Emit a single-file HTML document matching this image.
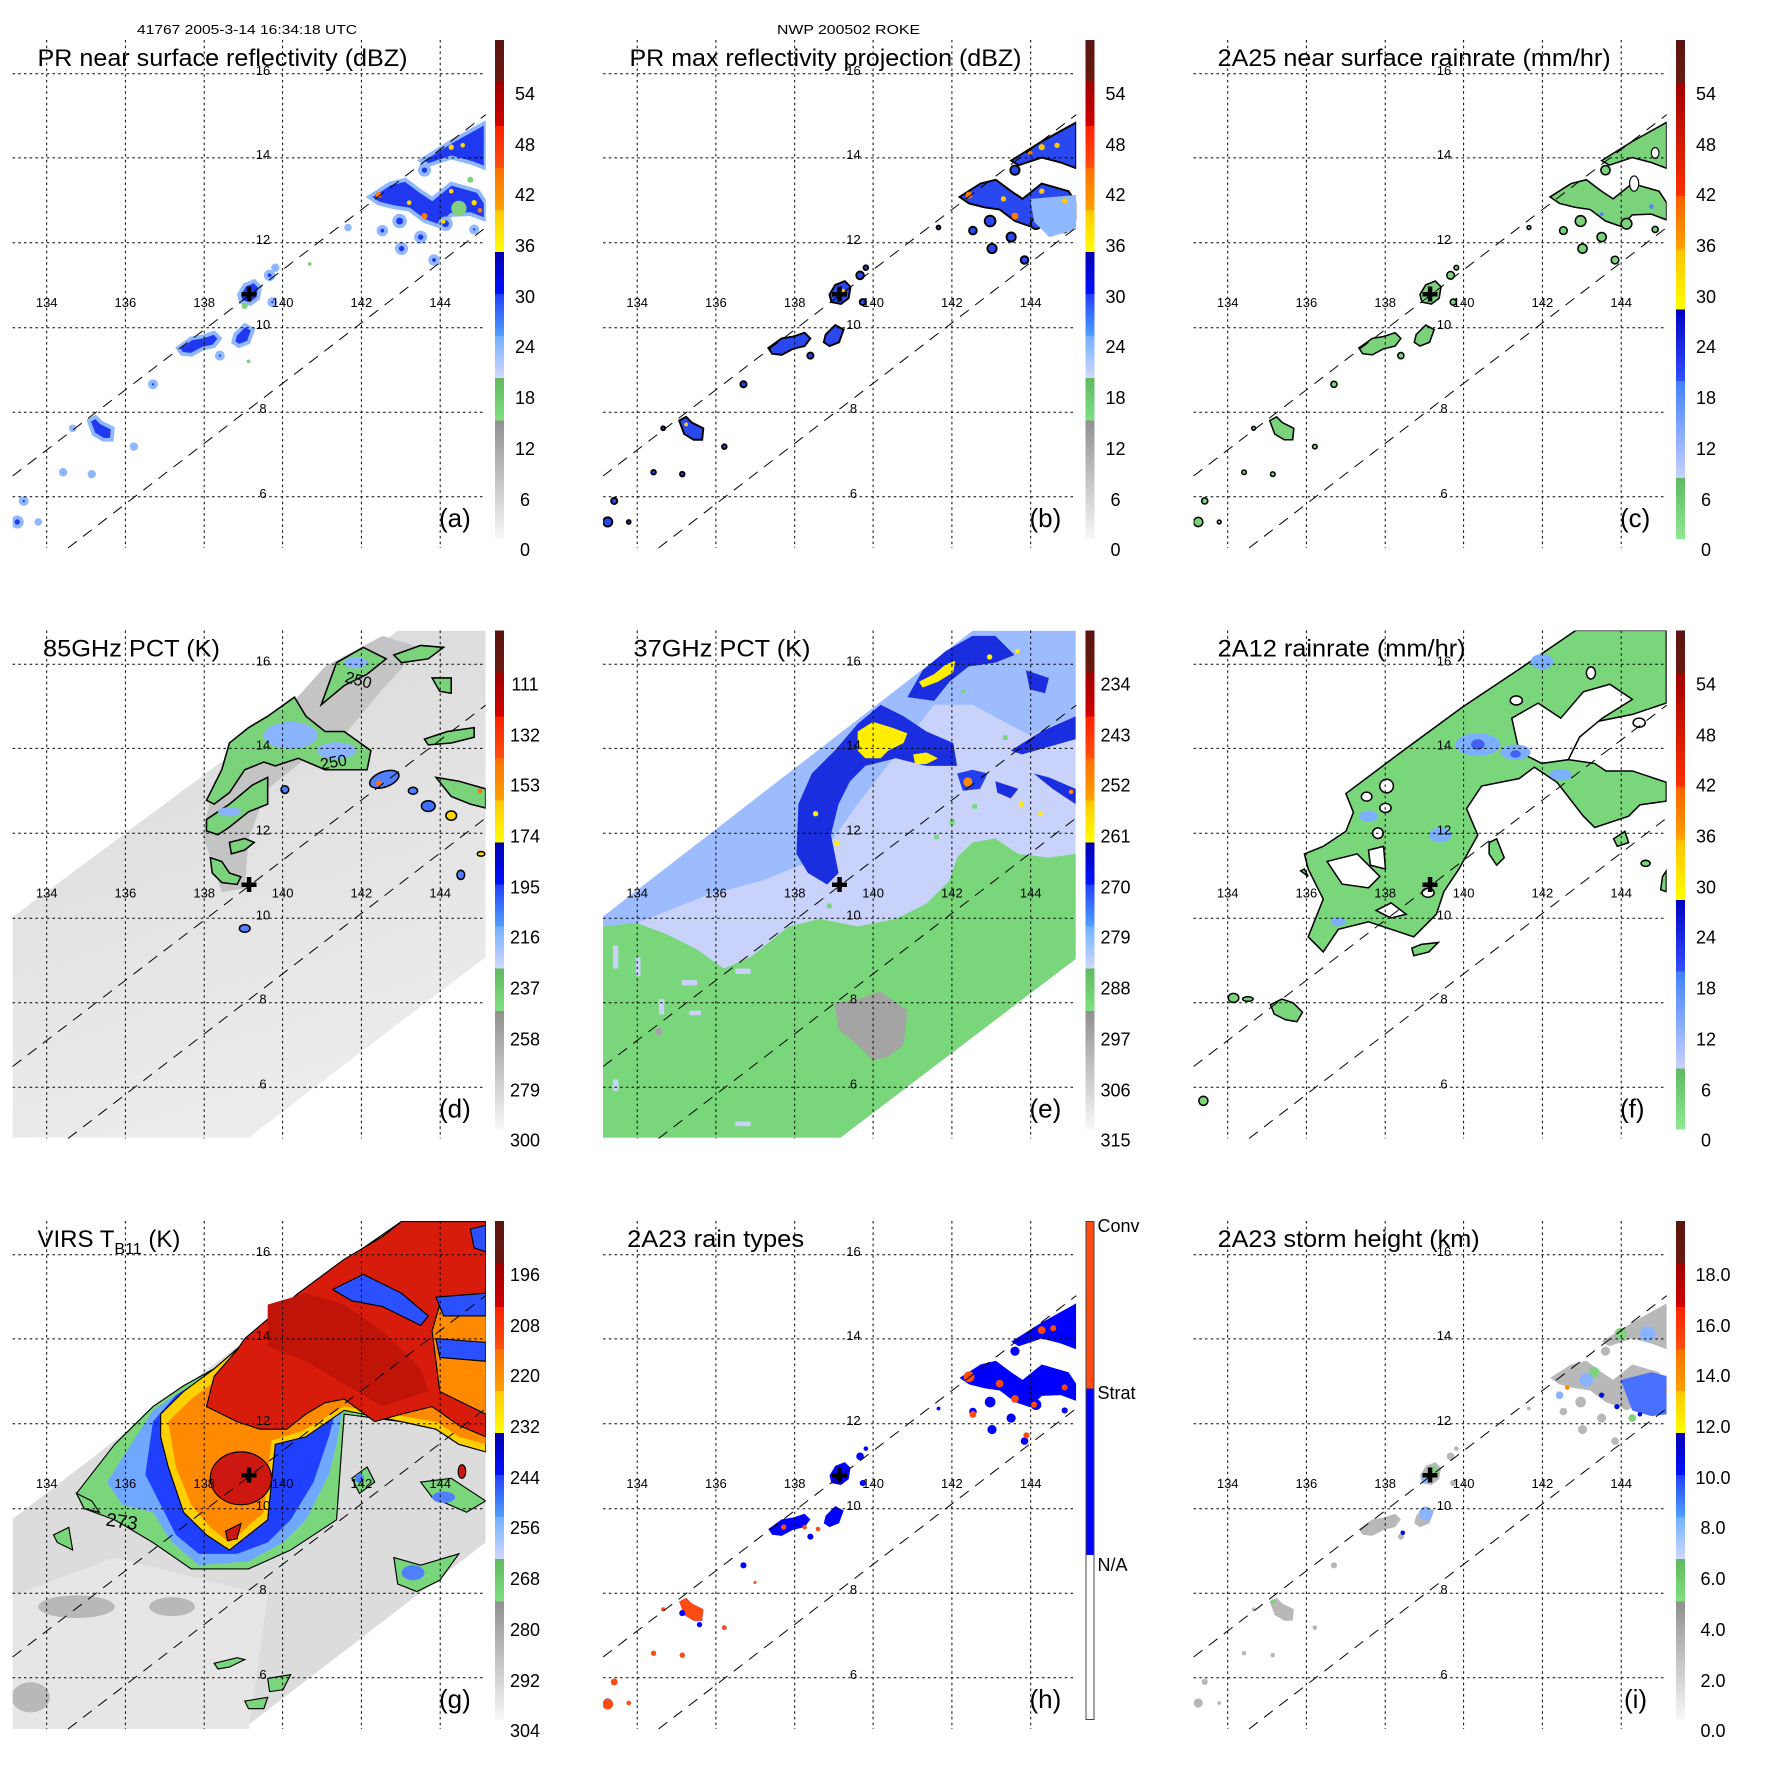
<!DOCTYPE html>
<html><head><meta charset="utf-8"><style>
html,body{margin:0;padding:0;background:#fff}
svg{display:block}
text{font-family:"Liberation Sans",Arial,sans-serif;fill:#000}
.ll{font-size:13px;text-anchor:middle}
.cb{font-size:18px;text-anchor:middle}
.tt{font-size:24px}
.pl{font-size:26px}
</style></head><body>
<svg xmlns="http://www.w3.org/2000/svg" xmlns:xlink="http://www.w3.org/1999/xlink" width="1771" height="1771" viewBox="0 0 1771 1771">
<defs>
<clipPath id="pc"><rect x="12.6" y="40" width="473.1" height="508"/></clipPath>
<linearGradient id="gA" x1="0" y1="0" x2="0" y2="1">
<stop offset="0" stop-color="#5a1410"/><stop offset=".084" stop-color="#6a1a10"/>
<stop offset=".084" stop-color="#a00000"/><stop offset=".172" stop-color="#d00000"/>
<stop offset=".172" stop-color="#ff2000"/><stop offset=".257" stop-color="#ff5010"/>
<stop offset=".257" stop-color="#ff7000"/><stop offset=".341" stop-color="#ffa000"/>
<stop offset=".341" stop-color="#ffc800"/><stop offset=".425" stop-color="#ffff00"/>
<stop offset=".425" stop-color="#0000b0"/><stop offset=".509" stop-color="#0010ff"/>
<stop offset=".509" stop-color="#2040ff"/><stop offset=".593" stop-color="#50a0ff"/>
<stop offset=".593" stop-color="#70b0ff"/><stop offset=".677" stop-color="#d0d8ff"/>
<stop offset=".677" stop-color="#60b860"/><stop offset=".763" stop-color="#80e080"/>
<stop offset=".763" stop-color="#909090"/><stop offset="1" stop-color="#f8f8f8"/>
</linearGradient>
<linearGradient id="gC" x1="0" y1="0" x2="0" y2="1">
<stop offset="0" stop-color="#5a1410"/><stop offset=".086" stop-color="#6a1a10"/>
<stop offset=".086" stop-color="#a00000"/><stop offset=".313" stop-color="#ff3000"/>
<stop offset=".313" stop-color="#ff6000"/><stop offset=".419" stop-color="#ffa000"/>
<stop offset=".419" stop-color="#ffc000"/><stop offset=".54" stop-color="#ffff00"/>
<stop offset=".54" stop-color="#0000c0"/><stop offset=".683" stop-color="#3050ff"/>
<stop offset=".683" stop-color="#4080ff"/><stop offset=".878" stop-color="#c8d0ff"/>
<stop offset=".878" stop-color="#60b860"/><stop offset="1" stop-color="#90e890"/>
</linearGradient>
<linearGradient id="gH" x1="0" y1="0" x2="0" y2="1">
<stop offset="0" stop-color="#ff4a10"/><stop offset=".335" stop-color="#ff4a10"/>
<stop offset=".335" stop-color="#0000ff"/><stop offset=".67" stop-color="#0000ff"/>
<stop offset=".67" stop-color="#ffffff"/><stop offset="1" stop-color="#ffffff"/>
</linearGradient>
<linearGradient id="gsw" x1="0" y1="0" x2="0.3" y2="1">
<stop offset="0" stop-color="#d8d8d8"/><stop offset="1" stop-color="#ececec"/>
</linearGradient>
<g id="frame" fill="none" stroke="#000">
<g stroke-width="1" stroke-dasharray="2.5,3.2">
<path d="M46.7,40V548M125.4,40V548M204.2,40V548M282.6,40V548M361.4,40V548M440.2,40V548"/>
<path d="M12.6,73.8H485.7M12.6,157.9H485.7M12.6,242.8H485.7M12.6,327.7H485.7M12.6,412.2H485.7M12.6,496.7H485.7"/>
</g>
<path d="M12.6,476L485.7,114.7M68,548L485.7,227.5" stroke-width="1" stroke-dasharray="11,8"/>
<rect x="245.5" y="290" width="7" height="8" fill="none" stroke="none"/>
</g>
<g id="cross"><rect x="241.5" y="292" width="15" height="4.5"/><rect x="246.8" y="286.5" width="4.5" height="15"/></g>
<g id="prs">
<path d="M1100,420 L1180,370 L1270,320 L1270,440 L1230,425 L1180,412 L1120,432 Z"/>
<path d="M965,515 L1020,480 L1060,470 L1100,500 L1130,520 L1180,480 L1250,500 L1270,530 L1270,575 L1230,560 L1180,562 L1150,592 L1110,578 L1070,548 L1030,542 L990,532 Z"/>
<circle cx="1045" cy="578" r="14"/><circle cx="1000" cy="603" r="10"/><circle cx="1050" cy="650" r="12"/><circle cx="1100" cy="620" r="12"/><circle cx="1165" cy="585" r="14"/><circle cx="1135" cy="680" r="10"/><circle cx="1110" cy="445" r="12"/><circle cx="1240" cy="600" r="8"/><circle cx="910" cy="595" r="5"/>
<path d="M625,770 L640,745 L665,735 L680,750 L675,780 L655,795 L630,790 Z"/>
<circle cx="705" cy="720" r="10"/><circle cx="720" cy="700" r="6"/><circle cx="712" cy="790" r="8"/>
<path d="M465,910 L500,885 L530,880 L560,870 L575,885 L560,905 L530,912 L500,928 L475,925 Z"/>
<path d="M615,875 L640,850 L662,862 L650,895 L625,905 L610,895 Z"/>
<circle cx="575" cy="930" r="8"/><circle cx="400" cy="1005" r="8"/>
<path d="M232,1100 L250,1090 L265,1105 L295,1120 L292,1150 L270,1150 L245,1135 Z"/>
<circle cx="350" cy="1168" r="6"/><circle cx="190" cy="1120" r="5"/><circle cx="165" cy="1235" r="6"/><circle cx="240" cy="1240" r="6"/><circle cx="45" cy="1365" r="12"/><circle cx="62" cy="1310" r="8"/><circle cx="100" cy="1365" r="5"/>
</g>
</defs>
<rect width="1771" height="1771" fill="#fff"/>

<text x="137" y="34" font-size="13" textLength="220" lengthAdjust="spacingAndGlyphs">41767 2005-3-14 16:34:18 UTC</text>
<text x="777" y="34" font-size="13" textLength="143" lengthAdjust="spacingAndGlyphs">NWP 200502 ROKE</text>

<!-- ===== Panel a ===== -->
<g transform="translate(0,0)">
<g clip-path="url(#pc)"><g transform="scale(.3824)">
<use xlink:href="#prs" fill="#2038f0" stroke="#90b8ff" stroke-width="10"/>
<g fill="#ffd800"><circle cx="1180" cy="385" r="7"/><circle cx="1210" cy="380" r="6"/><circle cx="1070" cy="530" r="6"/><circle cx="1180" cy="500" r="6"/><circle cx="1240" cy="530" r="7"/><circle cx="1160" cy="580" r="5"/></g>
<g fill="#ff7a00"><circle cx="990" cy="510" r="8"/><circle cx="1110" cy="565" r="8"/><circle cx="1255" cy="550" r="6"/></g>
<g fill="#80d080"><circle cx="1200" cy="545" r="20"/><circle cx="1230" cy="470" r="8"/><circle cx="640" cy="800" r="8"/><circle cx="810" cy="690" r="5"/><circle cx="650" cy="945" r="5"/></g>
</g></g>
<use xlink:href="#frame"/>
<use xlink:href="#cross"/>
<text class="ll" x="46.7" y="307">134</text><text class="ll" x="125.4" y="307">136</text><text class="ll" x="204.2" y="307">138</text><text class="ll" x="282.6" y="307">140</text><text class="ll" x="361.4" y="307">142</text><text class="ll" x="440.2" y="307">144</text>
<text class="ll" x="263" y="75">16</text><text class="ll" x="263" y="159">14</text><text class="ll" x="263" y="244">12</text><text class="ll" x="263" y="329">10</text><text class="ll" x="263" y="413">8</text><text class="ll" x="263" y="498">6</text>
<text class="tt" x="37.5" y="66" textLength="370" lengthAdjust="spacingAndGlyphs">PR near surface reflectivity (dBZ)</text>
<text class="pl" x="439" y="527">(a)</text>
<rect x="495" y="40" width="9" height="499" fill="url(#gA)"/>
<text class="cb" x="525" y="100">54</text><text class="cb" x="525" y="151">48</text><text class="cb" x="525" y="201">42</text><text class="cb" x="525" y="252">36</text><text class="cb" x="525" y="303">30</text><text class="cb" x="525" y="353">24</text><text class="cb" x="525" y="404">18</text><text class="cb" x="525" y="455">12</text><text class="cb" x="525" y="506">6</text><text class="cb" x="525" y="556">0</text>
</g>

<!-- ===== Panel b ===== -->
<g transform="translate(590.5,0)">
<g clip-path="url(#pc)"><g transform="scale(.3824)">
<use xlink:href="#prs" fill="#2a48f0" stroke="#000" stroke-width="5"/>
<path d="M1150,520 L1270,510 L1270,600 L1200,620 L1160,580 Z" fill="#90b8ff"/>
<g fill="#ffc800"><circle cx="1180" cy="385" r="8"/><circle cx="1220" cy="380" r="7"/><circle cx="1080" cy="520" r="7"/><circle cx="1180" cy="500" r="7"/><circle cx="1240" cy="525" r="7"/><circle cx="660" cy="760" r="5"/><circle cx="250" cy="1110" r="5"/></g>
<g fill="#ff7a00"><circle cx="990" cy="510" r="9"/><circle cx="1110" cy="565" r="9"/><circle cx="1150" cy="400" r="6"/></g>
</g></g>
<use xlink:href="#frame"/>
<use xlink:href="#cross"/>
<text class="ll" x="46.7" y="307">134</text><text class="ll" x="125.4" y="307">136</text><text class="ll" x="204.2" y="307">138</text><text class="ll" x="282.6" y="307">140</text><text class="ll" x="361.4" y="307">142</text><text class="ll" x="440.2" y="307">144</text>
<text class="ll" x="263" y="75">16</text><text class="ll" x="263" y="159">14</text><text class="ll" x="263" y="244">12</text><text class="ll" x="263" y="329">10</text><text class="ll" x="263" y="413">8</text><text class="ll" x="263" y="498">6</text>
<text class="tt" x="39" y="66" textLength="392" lengthAdjust="spacingAndGlyphs">PR max reflectivity projection (dBZ)</text>
<text class="pl" x="439" y="527">(b)</text>
<rect x="495" y="40" width="9" height="499" fill="url(#gA)"/>
<text class="cb" x="525" y="100">54</text><text class="cb" x="525" y="151">48</text><text class="cb" x="525" y="201">42</text><text class="cb" x="525" y="252">36</text><text class="cb" x="525" y="303">30</text><text class="cb" x="525" y="353">24</text><text class="cb" x="525" y="404">18</text><text class="cb" x="525" y="455">12</text><text class="cb" x="525" y="506">6</text><text class="cb" x="525" y="556">0</text>
</g>

<!-- ===== Panel c ===== -->
<g transform="translate(1181,0)">
<g clip-path="url(#pc)"><g transform="scale(.3824)">
<use xlink:href="#prs" fill="#7ad27a" stroke="#000" stroke-width="4"/>
<g fill="#fff" stroke="#000" stroke-width="3"><ellipse cx="1185" cy="480" rx="12" ry="20"/><ellipse cx="1240" cy="400" rx="10" ry="14"/></g>
<g fill="#5080ff"><circle cx="1230" cy="540" r="6"/><circle cx="1100" cy="560" r="5"/></g>
</g></g>
<use xlink:href="#frame"/>
<use xlink:href="#cross"/>
<text class="ll" x="46.7" y="307">134</text><text class="ll" x="125.4" y="307">136</text><text class="ll" x="204.2" y="307">138</text><text class="ll" x="282.6" y="307">140</text><text class="ll" x="361.4" y="307">142</text><text class="ll" x="440.2" y="307">144</text>
<text class="ll" x="263" y="75">16</text><text class="ll" x="263" y="159">14</text><text class="ll" x="263" y="244">12</text><text class="ll" x="263" y="329">10</text><text class="ll" x="263" y="413">8</text><text class="ll" x="263" y="498">6</text>
<text class="tt" x="36.6" y="66" textLength="393" lengthAdjust="spacingAndGlyphs">2A25 near surface rainrate (mm/hr)</text>
<text class="pl" x="439" y="527">(c)</text>
<rect x="495" y="40" width="9" height="499" fill="url(#gC)"/>
<text class="cb" x="525" y="100">54</text><text class="cb" x="525" y="151">48</text><text class="cb" x="525" y="201">42</text><text class="cb" x="525" y="252">36</text><text class="cb" x="525" y="303">30</text><text class="cb" x="525" y="353">24</text><text class="cb" x="525" y="404">18</text><text class="cb" x="525" y="455">12</text><text class="cb" x="525" y="506">6</text><text class="cb" x="525" y="556">0</text>
</g>

<!-- ===== Panel d ===== -->
<g transform="translate(0,590.5)">
<g clip-path="url(#pc)"><g transform="translate(0,-0.5) scale(.3824)">
<path d="M33,855 L1040,107 L1270,107 L1270,960 L650,1432 L33,1432 Z" fill="url(#gsw)"/>
<path d="M530,640 L560,500 L650,400 L760,300 L850,200 L1000,120 L1100,150 L1000,260 L900,380 L800,440 L700,520 L650,650 L640,780 L580,790 Z" fill="#c4c4c4"/>
<g fill="#7ad27a" stroke="#000" stroke-width="4">
<path d="M600,400 L650,360 L700,330 L770,280 L800,330 L850,370 L900,370 L970,420 L960,470 L850,470 L780,440 L720,460 L690,450 L640,470 L600,530 L560,560 L540,550 L580,470 Z"/>
<path d="M540,600 L600,560 L660,510 L700,490 L700,560 L650,580 L600,620 L570,640 L540,630 Z"/>
<path d="M550,700 L580,710 L600,740 L630,750 L620,770 L580,765 L555,740 Z"/>
<path d="M840,300 L880,190 L950,150 L1010,180 L960,220 L900,250 Z"/>
<path d="M1030,170 L1100,145 L1160,150 L1120,180 L1050,190 Z"/>
<path d="M1130,230 L1180,230 L1180,270 L1150,265 Z"/>
<path d="M1140,490 L1200,500 L1270,520 L1270,570 L1230,560 L1180,540 Z"/>
<path d="M1110,390 L1170,370 L1240,360 L1240,385 L1180,400 L1120,405 Z"/>
<path d="M600,660 L640,650 L665,660 L640,680 L605,690 Z"/>
</g>
<g fill="#8ab4ff">
<ellipse cx="760" cy="380" rx="70" ry="35"/><ellipse cx="880" cy="420" rx="50" ry="22"/><ellipse cx="930" cy="190" rx="30" ry="15"/><ellipse cx="600" cy="580" rx="30" ry="12"/>
</g>
<g stroke="#000" stroke-width="4">
<ellipse cx="1005" cy="495" rx="40" ry="20" fill="#5080ff" transform="rotate(-20 1005 495)"/>
<ellipse cx="1120" cy="565" rx="18" ry="14" fill="#4070ff"/><ellipse cx="1180" cy="590" rx="14" ry="12" fill="#ffd800"/>
<ellipse cx="1205" cy="745" rx="10" ry="12" fill="#5080ff"/><ellipse cx="1080" cy="525" rx="12" ry="9" fill="#5080ff"/>
<ellipse cx="640" cy="885" rx="14" ry="10" fill="#5080ff"/><ellipse cx="1258" cy="690" rx="10" ry="6" fill="#ffd800"/>
<ellipse cx="745" cy="522" rx="10" ry="10" fill="#5080ff"/>
</g>
<g fill="#ff7000"><circle cx="990" cy="505" r="7"/><circle cx="1255" cy="525" r="6"/></g>
<text x="900" y="240" font-size="42" transform="rotate(15 900 240)">250</text>
<text x="840" y="470" font-size="42" transform="rotate(-10 840 470)">250</text>
</g></g>
<use xlink:href="#frame"/>
<use xlink:href="#cross"/>
<text class="ll" x="46.7" y="307">134</text><text class="ll" x="125.4" y="307">136</text><text class="ll" x="204.2" y="307">138</text><text class="ll" x="282.6" y="307">140</text><text class="ll" x="361.4" y="307">142</text><text class="ll" x="440.2" y="307">144</text>
<text class="ll" x="263" y="75">16</text><text class="ll" x="263" y="159">14</text><text class="ll" x="263" y="244">12</text><text class="ll" x="263" y="329">10</text><text class="ll" x="263" y="413">8</text><text class="ll" x="263" y="498">6</text>
<text class="tt" x="43" y="66" textLength="177" lengthAdjust="spacingAndGlyphs">85GHz PCT (K)</text>
<text class="pl" x="439" y="527">(d)</text>
<rect x="495" y="40" width="9" height="499" fill="url(#gA)"/>
<text class="cb" x="525" y="100">111</text><text class="cb" x="525" y="151">132</text><text class="cb" x="525" y="201">153</text><text class="cb" x="525" y="252">174</text><text class="cb" x="525" y="303">195</text><text class="cb" x="525" y="353">216</text><text class="cb" x="525" y="404">237</text><text class="cb" x="525" y="455">258</text><text class="cb" x="525" y="506">279</text><text class="cb" x="525" y="556">300</text>
</g>

<!-- ===== Panel e ===== -->
<g transform="translate(590.5,590.5)">
<g clip-path="url(#pc)"><g transform="translate(-0.5,-0.5) scale(.3824)">
<path d="M33,855 L1000,107 L1270,107 L1270,965 L655,1432 L33,1432 Z" fill="#c8d2fa"/>
<path d="M33,855 L1000,107 L1270,107 L1270,330 L1150,380 L1000,300 L900,300 L800,430 L700,560 L600,700 L450,760 L300,800 L150,860 L33,900 Z" fill="#9cbcff"/>
<path d="M540,690 L545,560 L580,480 L640,420 L700,350 L760,300 L820,330 L880,370 L950,400 L960,460 L880,460 L800,440 L720,460 L680,500 L650,560 L630,640 L650,740 L620,770 L570,740 Z" fill="#1a2ee0"/>
<path d="M830,280 L870,210 L930,160 L1000,120 L1060,120 L1110,170 L1060,190 L990,200 L940,240 L900,290 Z" fill="#1a2ee0"/>
<path d="M1100,420 L1180,370 L1270,330 L1270,390 L1200,410 L1130,430 Z" fill="#1a2ee0"/>
<path d="M1160,480 L1200,490 L1270,520 L1270,560 L1210,520 Z" fill="#1a2ee0"/>
<path d="M1060,500 L1120,520 L1100,545 L1065,530 Z" fill="#1a2ee0"/>
<path d="M1140,210 L1200,230 L1190,270 L1150,260 Z" fill="#1a2ee0"/>
<path d="M960,480 L1000,470 L1040,480 L1020,520 L975,525 Z" fill="#2040f0"/>
<g fill="#ffee00">
<path d="M700,370 L740,345 L790,360 L830,375 L820,400 L780,420 L760,440 L720,440 L700,420 Z"/>
<path d="M845,430 L880,425 L910,440 L880,455 L850,455 Z"/>
<path d="M860,240 L900,220 L930,195 L955,185 L950,215 L910,240 L870,255 Z"/>
<circle cx="590" cy="585" r="7"/><circle cx="645" cy="662" r="7"/><circle cx="1045" cy="175" r="7"/><circle cx="1118" cy="160" r="6"/><circle cx="1128" cy="560" r="7"/><circle cx="1178" cy="585" r="6"/>
</g>
<g fill="#ff8a00"><circle cx="988" cy="502" r="12"/><circle cx="1258" cy="528" r="6"/></g>
<path d="M33,880 L120,870 L200,900 L280,940 L350,990 L420,960 L470,920 L520,880 L600,860 L700,880 L800,860 L880,820 L940,760 L960,700 L1000,660 L1060,650 L1120,690 L1200,700 L1270,690 L1270,965 L655,1432 L33,1432 Z" fill="#7ad67a"/>
<g fill="#c8d2fa"><rect x="60" y="930" width="14" height="60"/><rect x="120" y="960" width="12" height="50"/><rect x="240" y="1020" width="40" height="14"/><rect x="180" y="1070" width="14" height="40"/><rect x="260" y="1100" width="30" height="12"/><rect x="380" y="990" width="40" height="14"/><rect x="60" y="1280" width="14" height="30"/><rect x="380" y="1390" width="40" height="12"/></g>
<g fill="#7ad67a"><rect x="940" y="600" width="14" height="14"/><rect x="1000" y="560" width="12" height="12"/><rect x="900" y="640" width="12" height="12"/><rect x="1080" y="380" width="12" height="12"/><rect x="970" y="260" width="10" height="10"/><rect x="620" y="820" width="12" height="12"/></g>
<path d="M640,1080 L700,1070 L760,1050 L830,1100 L820,1190 L780,1220 L740,1230 L700,1190 L650,1150 L645,1120 Z" fill="#a4a4a4"/>
<circle cx="180" cy="1155" r="10" fill="#a4a4a4"/>
</g></g>
<use xlink:href="#frame"/>
<use xlink:href="#cross"/>
<text class="ll" x="46.7" y="307">134</text><text class="ll" x="125.4" y="307">136</text><text class="ll" x="204.2" y="307">138</text><text class="ll" x="282.6" y="307">140</text><text class="ll" x="361.4" y="307">142</text><text class="ll" x="440.2" y="307">144</text>
<text class="ll" x="263" y="75">16</text><text class="ll" x="263" y="159">14</text><text class="ll" x="263" y="244">12</text><text class="ll" x="263" y="329">10</text><text class="ll" x="263" y="413">8</text><text class="ll" x="263" y="498">6</text>
<text class="tt" x="43" y="66" textLength="177" lengthAdjust="spacingAndGlyphs">37GHz PCT (K)</text>
<text class="pl" x="439" y="527">(e)</text>
<rect x="495" y="40" width="9" height="499" fill="url(#gA)"/>
<text class="cb" x="525" y="100">234</text><text class="cb" x="525" y="151">243</text><text class="cb" x="525" y="201">252</text><text class="cb" x="525" y="252">261</text><text class="cb" x="525" y="303">270</text><text class="cb" x="525" y="353">279</text><text class="cb" x="525" y="404">288</text><text class="cb" x="525" y="455">297</text><text class="cb" x="525" y="506">306</text><text class="cb" x="525" y="556">315</text>
</g>

<!-- ===== Panel f ===== -->
<g transform="translate(1181,590.5)">
<g clip-path="url(#pc)"><g transform="translate(-1,-0.5) scale(.377)">
<path d="M440,540 L600,420 L750,310 L900,210 L1050,107 L1290,107 L1290,300 L1200,330 L1100,350 L1050,400 L1030,450 L1100,460 L1130,480 L1200,480 L1290,510 L1290,560 L1220,570 L1190,600 L1100,630 L1070,600 L1000,510 L940,470 L900,500 L800,520 L760,580 L790,650 L740,740 L700,800 L680,860 L620,920 L560,900 L500,880 L420,900 L380,960 L340,920 L380,820 L340,740 L330,700 L380,680 L440,640 L460,590 Z" fill="#7ad67a" stroke="#000" stroke-width="4"/>
<g fill="#fff" stroke="#000" stroke-width="4">
<path d="M880,340 L950,300 L1010,340 L1070,270 L1140,250 L1200,290 L1120,340 L1060,390 L1030,450 L960,460 L900,430 Z"/>
<path d="M390,720 L470,700 L530,760 L500,790 L430,780 Z"/>
<path d="M500,690 L540,680 L545,740 L505,730 Z"/>
<path d="M520,850 L560,830 L600,860 L560,870 Z"/>
<ellipse cx="548" cy="520" rx="18" ry="18"/><ellipse cx="545" cy="578" rx="15" ry="12"/><ellipse cx="495" cy="548" rx="14" ry="12"/><ellipse cx="525" cy="645" rx="14" ry="14"/>
<ellipse cx="892" cy="293" rx="16" ry="12"/><ellipse cx="1090" cy="220" rx="12" ry="16"/><ellipse cx="1218" cy="352" rx="16" ry="12"/><ellipse cx="658" cy="803" rx="16" ry="12"/>
</g>
<g fill="#7ab0ff"><ellipse cx="790" cy="410" rx="60" ry="30"/><ellipse cx="890" cy="430" rx="40" ry="20"/><ellipse cx="960" cy="190" rx="30" ry="20"/><ellipse cx="690" cy="650" rx="30" ry="20"/><ellipse cx="500" cy="600" rx="25" ry="15"/><ellipse cx="420" cy="880" rx="20" ry="12"/><ellipse cx="1010" cy="490" rx="30" ry="15"/></g>
<g fill="#4060f0"><ellipse cx="790" cy="410" rx="18" ry="14"/><ellipse cx="890" cy="435" rx="14" ry="10"/></g>
<g fill="#7ad67a" stroke="#000" stroke-width="4">
<path d="M820,670 L840,660 L860,710 L840,730 L820,700 Z"/>
<path d="M1150,660 L1180,640 L1190,670 L1160,680 Z"/>
<path d="M615,950 L640,940 L685,935 L660,960 L620,970 Z"/>
<path d="M240,1100 L270,1085 L300,1095 L325,1120 L310,1145 L280,1140 L250,1125 Z"/>
<ellipse cx="142" cy="1082" rx="14" ry="12"/><ellipse cx="62" cy="1355" rx="12" ry="12"/><ellipse cx="1235" cy="725" rx="12" ry="8"/>
<path d="M1280,760 L1290,745 L1290,800 L1275,795 Z"/>
<path d="M320,745 L330,740 L340,760 Z"/><ellipse cx="180" cy="1085" rx="14" ry="6"/>
</g>
</g></g>
<use xlink:href="#frame"/>
<use xlink:href="#cross"/>
<text class="ll" x="46.7" y="307">134</text><text class="ll" x="125.4" y="307">136</text><text class="ll" x="204.2" y="307">138</text><text class="ll" x="282.6" y="307">140</text><text class="ll" x="361.4" y="307">142</text><text class="ll" x="440.2" y="307">144</text>
<text class="ll" x="263" y="75">16</text><text class="ll" x="263" y="159">14</text><text class="ll" x="263" y="244">12</text><text class="ll" x="263" y="329">10</text><text class="ll" x="263" y="413">8</text><text class="ll" x="263" y="498">6</text>
<text class="tt" x="36.6" y="66" textLength="248" lengthAdjust="spacingAndGlyphs">2A12 rainrate (mm/hr)</text>
<text class="pl" x="439" y="527">(f)</text>
<rect x="495" y="40" width="9" height="499" fill="url(#gC)"/>
<text class="cb" x="525" y="100">54</text><text class="cb" x="525" y="151">48</text><text class="cb" x="525" y="201">42</text><text class="cb" x="525" y="252">36</text><text class="cb" x="525" y="303">30</text><text class="cb" x="525" y="353">24</text><text class="cb" x="525" y="404">18</text><text class="cb" x="525" y="455">12</text><text class="cb" x="525" y="506">6</text><text class="cb" x="525" y="556">0</text>
</g>

<!-- ===== Panel g ===== -->
<g transform="translate(0,1181)">
<g clip-path="url(#pc)"><g transform="translate(0,-1) scale(.3824,.3776)">
<path d="M33,898 L1045,110 L1270,110 L1270,960 L630,1458 L33,1458 Z" fill="#dcdcdc"/>
<path d="M33,1100 L300,1000 L500,1050 L700,1100 L650,1458 L33,1458 Z" fill="#e6e6e6"/>
<g fill="#b8b8b8"><ellipse cx="200" cy="1130" rx="100" ry="30"/><ellipse cx="80" cy="1370" rx="50" ry="40"/><ellipse cx="450" cy="1130" rx="60" ry="25"/></g>
<path d="M200,830 L300,700 L400,600 L480,545 L560,500 L640,430 L780,300 L1050,110 L1270,110 L1270,720 L1200,700 L1140,660 L1050,640 L900,620 L880,900 L760,980 L650,1030 L500,1030 L400,960 L300,900 L220,870 Z" fill="#7ad67a" stroke="#000" stroke-width="3"/>
<path d="M280,800 L330,720 L400,610 L480,555 L560,505 L900,580 L880,700 L860,780 L800,900 L740,960 L650,1010 L520,1020 L450,960 L400,880 L320,860 Z" fill="#70a8ff"/>
<path d="M380,780 L400,640 L460,570 L560,505 L880,600 L860,680 L820,800 L760,900 L700,960 L620,990 L520,990 L460,940 L420,860 Z" fill="#2040ff"/>
<path d="M420,620 L480,560 L560,500 L640,430 L780,300 L1050,110 L1270,110 L1270,720 L1200,700 L1140,660 L1050,640 L900,610 L800,680 L720,700 L700,900 L600,980 L540,940 L480,880 L440,760 L420,680 Z" fill="#ffd000" stroke="#000" stroke-width="3"/>
<path d="M440,640 L500,580 L580,520 L660,450 L790,320 L1050,120 L1270,120 L1270,700 L1200,680 L1140,640 L1050,625 L900,600 L790,665 L710,690 L690,880 L600,960 L550,920 L500,860 L460,760 Z" fill="#ff8a00"/>
<path d="M540,600 L560,520 L620,450 L640,420 L780,300 L900,210 L1000,150 L1050,110 L1270,110 L1270,300 L1150,330 L1130,400 L1140,480 L1150,560 L1270,620 L1270,680 L1200,650 L1130,600 L1050,620 L980,640 L900,580 L850,590 L800,620 L750,660 L680,660 L620,640 L580,620 Z" fill="#d81c0c" stroke="#000" stroke-width="3"/>
<path d="M700,330 L800,300 L900,330 L1000,400 L1100,500 L1120,560 L1000,600 L900,540 L800,480 L700,440 Z" fill="#c01408"/>
<g fill="#2a50ff" stroke="#000" stroke-width="3">
<path d="M870,290 L950,250 L1050,300 L1120,360 L1100,385 L1000,335 L920,320 Z"/>
<path d="M1140,310 L1270,300 L1270,360 L1160,360 Z"/>
<path d="M1140,420 L1270,430 L1270,480 L1150,470 Z"/>
<path d="M1230,130 L1270,120 L1270,190 L1240,180 Z"/>
</g>
<ellipse cx="630" cy="790" rx="80" ry="70" fill="#cc1810" stroke="#000" stroke-width="3"/>
<path d="M590,930 L630,910 L620,950 L595,955 Z" fill="#cc1810" stroke="#000" stroke-width="3"/>
<ellipse cx="1208" cy="772" rx="10" ry="18" fill="#cc1810" stroke="#000" stroke-width="3"/>
<g fill="#7ad67a" stroke="#000" stroke-width="3">
<path d="M1030,1000 L1100,1020 L1200,990 L1150,1060 L1090,1090 L1040,1070 Z"/>
<path d="M920,790 L960,760 L980,800 L940,830 Z"/>
<path d="M1100,800 L1180,790 L1270,850 L1220,880 L1130,840 Z"/>
<path d="M140,940 L180,920 L190,980 L150,960 Z"/>
<path d="M560,1280 L620,1265 L640,1270 L600,1290 L570,1295 Z"/>
<path d="M640,1380 L700,1370 L690,1400 L650,1400 Z"/>
<path d="M700,1320 L760,1310 L740,1350 L705,1355 Z"/>
<path d="M200,830 L240,850 L260,880 L220,870 Z"/>
</g>
<g fill="#5080ff"><ellipse cx="1080" cy="1040" rx="30" ry="20"/><ellipse cx="1160" cy="840" rx="30" ry="15"/><ellipse cx="940" cy="790" rx="12" ry="12"/></g>
<text x="275" y="915" font-size="50" transform="rotate(8 275 915)">273</text>
</g></g>
<use xlink:href="#frame"/>
<use xlink:href="#cross"/>
<text class="ll" x="46.7" y="307">134</text><text class="ll" x="125.4" y="307">136</text><text class="ll" x="204.2" y="307">138</text><text class="ll" x="282.6" y="307">140</text><text class="ll" x="361.4" y="307">142</text><text class="ll" x="440.2" y="307">144</text>
<text class="ll" x="263" y="75">16</text><text class="ll" x="263" y="159">14</text><text class="ll" x="263" y="244">12</text><text class="ll" x="263" y="329">10</text><text class="ll" x="263" y="413">8</text><text class="ll" x="263" y="498">6</text>
<text class="tt" x="37.5" y="66">VIRS T<tspan font-size="16" dy="7">B11</tspan><tspan dy="-7"> (K)</tspan></text>
<text class="pl" x="439" y="527">(g)</text>
<rect x="495" y="40" width="9" height="499" fill="url(#gA)"/>
<text class="cb" x="525" y="100">196</text><text class="cb" x="525" y="151">208</text><text class="cb" x="525" y="201">220</text><text class="cb" x="525" y="252">232</text><text class="cb" x="525" y="303">244</text><text class="cb" x="525" y="353">256</text><text class="cb" x="525" y="404">268</text><text class="cb" x="525" y="455">280</text><text class="cb" x="525" y="506">292</text><text class="cb" x="525" y="556">304</text>
</g>

<!-- ===== Panel h ===== -->
<g transform="translate(590.5,1181)">
<g clip-path="url(#pc)"><g transform="scale(.3824)">
<use xlink:href="#prs" fill="#0000ff"/>
<g fill="#ff4a10">
<circle cx="1180" cy="390" r="10"/><circle cx="1210" cy="385" r="8"/><circle cx="990" cy="512" r="14"/><circle cx="1070" cy="530" r="10"/><circle cx="1110" cy="570" r="10"/><circle cx="1240" cy="540" r="8"/><circle cx="1160" cy="585" r="8"/><circle cx="1000" cy="610" r="9"/><circle cx="1140" cy="665" r="8"/>
<circle cx="505" cy="905" r="7"/><circle cx="560" cy="905" r="6"/><circle cx="595" cy="910" r="6"/>
<path d="M232,1100 L250,1090 L265,1105 L295,1120 L292,1150 L270,1150 L245,1135 Z"/>
<circle cx="350" cy="1168" r="6"/><circle cx="190" cy="1120" r="5"/><circle cx="165" cy="1235" r="7"/><circle cx="240" cy="1240" r="7"/><circle cx="45" cy="1368" r="14"/><circle cx="62" cy="1310" r="9"/><circle cx="100" cy="1365" r="6"/><circle cx="430" cy="1050" r="4"/>
</g>
<g fill="#0000ff"><circle cx="240" cy="1130" r="8"/><circle cx="285" cy="1160" r="7"/></g>
</g></g>
<use xlink:href="#frame"/>
<use xlink:href="#cross"/>
<text class="ll" x="46.7" y="307">134</text><text class="ll" x="125.4" y="307">136</text><text class="ll" x="204.2" y="307">138</text><text class="ll" x="282.6" y="307">140</text><text class="ll" x="361.4" y="307">142</text><text class="ll" x="440.2" y="307">144</text>
<text class="ll" x="263" y="75">16</text><text class="ll" x="263" y="159">14</text><text class="ll" x="263" y="244">12</text><text class="ll" x="263" y="329">10</text><text class="ll" x="263" y="413">8</text><text class="ll" x="263" y="498">6</text>
<text class="tt" x="36.6" y="66" textLength="177" lengthAdjust="spacingAndGlyphs">2A23 rain types</text>
<text class="pl" x="439" y="527">(h)</text>
<rect x="495.5" y="40.5" width="8" height="498" fill="url(#gH)" stroke="#444" stroke-width="1"/>
<text x="507" y="51" font-size="18">Conv</text>
<text x="507" y="218" font-size="18">Strat</text>
<text x="507" y="390" font-size="18">N/A</text>
</g>

<!-- ===== Panel i ===== -->
<g transform="translate(1181,1181)">
<g clip-path="url(#pc)"><g transform="scale(.3824)">
<use xlink:href="#prs" fill="#b8b8b8"/>
<g fill="#80d080"><circle cx="1150" cy="400" r="16"/><circle cx="1080" cy="500" r="14"/><circle cx="660" cy="760" r="14"/><circle cx="1180" cy="620" r="10"/><circle cx="240" cy="1100" r="6"/></g>
<path d="M1150,520 L1230,500 L1270,510 L1270,610 L1230,615 L1180,600 Z" fill="#4a70ff"/>
<g fill="#8ab4ff"><circle cx="1060" cy="520" r="18"/><circle cx="1220" cy="400" r="20"/><circle cx="640" cy="870" r="18"/><circle cx="990" cy="560" r="10"/><circle cx="640" cy="780" r="10"/></g>
<g fill="#0010e0"><circle cx="1100" cy="560" r="7"/><circle cx="1140" cy="590" r="7"/><circle cx="1200" cy="610" r="6"/><circle cx="580" cy="920" r="6"/></g>
<g fill="#ff8a00"><circle cx="1275" cy="550" r="7"/><circle cx="1010" cy="540" r="6"/></g>
</g></g>
<use xlink:href="#frame"/>
<use xlink:href="#cross"/>
<text class="ll" x="46.7" y="307">134</text><text class="ll" x="125.4" y="307">136</text><text class="ll" x="204.2" y="307">138</text><text class="ll" x="282.6" y="307">140</text><text class="ll" x="361.4" y="307">142</text><text class="ll" x="440.2" y="307">144</text>
<text class="ll" x="263" y="75">16</text><text class="ll" x="263" y="159">14</text><text class="ll" x="263" y="244">12</text><text class="ll" x="263" y="329">10</text><text class="ll" x="263" y="413">8</text><text class="ll" x="263" y="498">6</text>
<text class="tt" x="36.6" y="66" textLength="262" lengthAdjust="spacingAndGlyphs">2A23 storm height (km)</text>
<text class="pl" x="443" y="527">(i)</text>
<rect x="495" y="40" width="9" height="499" fill="url(#gA)"/>
<text class="cb" x="532" y="100">18.0</text><text class="cb" x="532" y="151">16.0</text><text class="cb" x="532" y="201">14.0</text><text class="cb" x="532" y="252">12.0</text><text class="cb" x="532" y="303">10.0</text><text class="cb" x="532" y="353">8.0</text><text class="cb" x="532" y="404">6.0</text><text class="cb" x="532" y="455">4.0</text><text class="cb" x="532" y="506">2.0</text><text class="cb" x="532" y="556">0.0</text>
</g>
</svg>
</body></html>
